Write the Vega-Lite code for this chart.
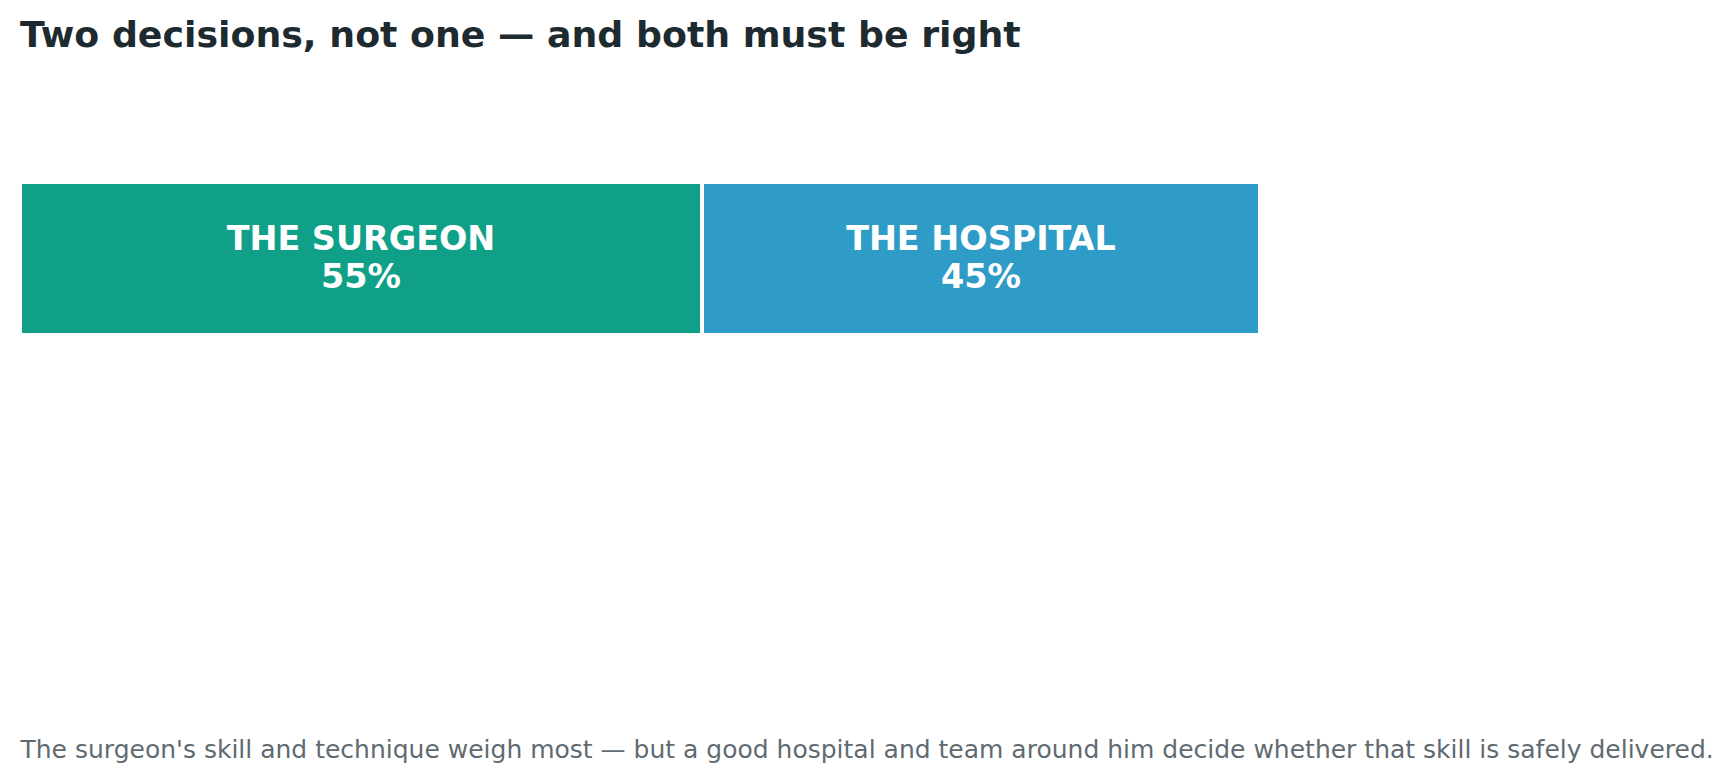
{
  "$schema": "https://vega.github.io/schema/vega-lite/v6.json",
  "description": "Two-part stacked bar: surgeon vs hospital share of the decision.",
  "autosize": {"type": "none"},
  "padding": {"left": 20, "top": 182, "right": 476, "bottom": 448},
  "width": 1240,
  "height": 153,
  "background": "white",
  "title": {
    "text": "Two decisions, not one — and both must be right",
    "anchor": "start",
    "frame": "group",
    "orient": "top",
    "baseline": "alphabetic",
    "offset": 97,
    "font": "DejaVu Sans",
    "fontSize": 36.3,
    "fontWeight": "bold",
    "color": "#1d2a30"
  },
  "data": {
    "values": [
      {"who": "THE SURGEON", "share": 0.55},
      {"who": "THE HOSPITAL", "share": 0.45}
    ]
  },
  "encoding": {
    "y": {"datum": "split", "type": "nominal", "axis": null,
          "scale": {"paddingInner": 0, "paddingOuter": 0}},
    "order": {"field": "share", "sort": "descending"}
  },
  "layer": [
    {
      "mark": {"type": "bar", "stroke": "white", "strokeWidth": 4},
      "encoding": {
        "x": {"field": "share", "type": "quantitative", "stack": "zero",
              "scale": {"domain": [0, 1], "nice": false},
              "axis": {
                "title": "The surgeon's skill and technique weigh most — but a good hospital and team around him decide whether that skill is safely delivered.",
                "domain": false, "ticks": false, "labels": false, "grid": false,
                "titleAnchor": "start", "titleAlign": "left", "titleBaseline": "alphabetic",
                "titleX": 0, "titleY": 422,
                "titleFont": "DejaVu Sans", "titleFontSize": 25, "titleFontWeight": "normal",
                "titleColor": "#5f6b70"
              }},
        "color": {"field": "who", "type": "nominal", "legend": null,
                  "scale": {"domain": ["THE SURGEON", "THE HOSPITAL"], "range": ["#0fa087", "#2e9cc6"]}}
      }
    },
    {
      "mark": {"type": "text", "font": "DejaVu Sans", "fontSize": 33.4, "fontWeight": "bold",
               "color": "white", "align": "center", "baseline": "middle", "dy": -19},
      "encoding": {
        "x": {"field": "share", "type": "quantitative", "stack": "zero", "bandPosition": 0.5},
        "detail": {"field": "who"},
        "text": {"field": "who", "type": "nominal"}
      }
    },
    {
      "mark": {"type": "text", "font": "DejaVu Sans", "fontSize": 33.4, "fontWeight": "bold",
               "color": "white", "align": "center", "baseline": "middle", "dy": 19},
      "encoding": {
        "x": {"field": "share", "type": "quantitative", "stack": "zero", "bandPosition": 0.5},
        "detail": {"field": "who"},
        "text": {"field": "share", "type": "quantitative", "format": ".0%"}
      }
    }
  ],
  "config": {"view": {"stroke": null}}
}
